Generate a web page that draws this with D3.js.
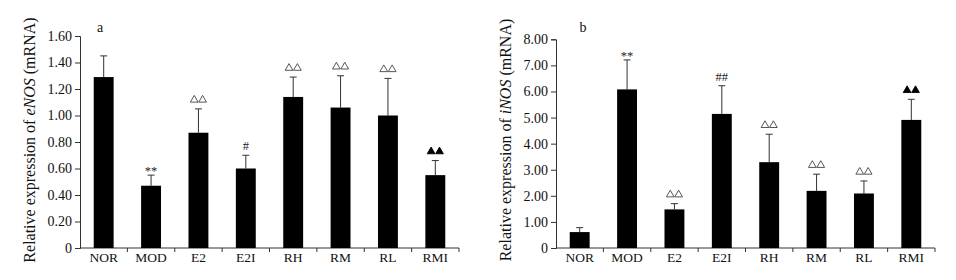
<!DOCTYPE html>
<html>
<head>
<meta charset="utf-8">
<script src="https://cdn.jsdelivr.net/npm/d3@7"></script>
<style>
  body { margin: 0; background: #fff; }
  svg { display: block; }
  text { font-family: "Liberation Serif", "Times New Roman", serif; }
</style>
</head>
<body>
<div id="chart"></div>
<script>
// group names on the x axis
const groups = ['NOR', 'MOD', 'E2', 'E2I', 'RH', 'RM', 'RL', 'RMI'];

// panel a: eNOS
const enosMean = [1.29, 0.47, 0.87, 0.60, 1.14, 1.06, 1.00, 0.55];
const enosUpper = [1.45, 0.55, 1.05, 0.70, 1.29, 1.30, 1.28, 0.66];
const enosMarks = ['', '**', '△△', '#', '△△', '△△', '△△', '▲▲'];
const enosTicks = [0, 0.2, 0.4, 0.6, 0.8, 1.0, 1.2, 1.4, 1.6];

// panel b: iNOS
const inosMean = [0.61, 6.08, 1.48, 5.14, 3.29, 2.19, 2.09, 4.91];
const inosUpper = [0.78, 7.21, 1.70, 6.22, 4.36, 2.83, 2.57, 5.70];
const inosMarks = ['', '**', '△△', '##', '△△', '△△', '△△', '▲▲'];
const inosTicks = [0, 1, 2, 3, 4, 5, 6, 7, 8];

const W = 956, H = 280;

const svg = d3.select('#chart').append('svg')
    .attr('width', W)
    .attr('height', H);

function drawPanel(opt) {
    const g = svg.append('g');

    const x = d3.scaleBand()
        .domain(groups)
        .range([opt.left, opt.left + 379])
        .paddingInner(0.58)
        .paddingOuter(0.29);

    const y = d3.scaleLinear()
        .domain([0, opt.max])
        .range([248, opt.top]);

    // y axis
    const yAxis = g.append('g')
        .attr('transform', `translate(${opt.left},0)`)
        .call(d3.axisLeft(y)
            .tickValues(opt.ticks)
            .tickSize(5)
            .tickPadding(3)
            .tickFormat(d => d === 0 ? '0' : d.toFixed(2)));
    yAxis.select('.domain').attr('stroke', '#333');
    yAxis.selectAll('.tick line').attr('stroke', '#333');
    yAxis.selectAll('text')
        .style('font-family', '"Liberation Serif", serif')
        .style('font-size', '14px')
        .attr('fill', '#111');

    // x axis with ticks at band boundaries
    const xg = g.append('g').attr('transform', `translate(0,248)`);
    xg.append('line')
        .attr('x1', opt.left).attr('x2', opt.left + 379)
        .attr('stroke', '#333');
    const step = x.step();
    xg.selectAll('.bt')
        .data(groups)
        .join('line')
        .attr('class', 'bt')
        .attr('x1', d => x(d) + x.bandwidth() / 2 + step / 2)
        .attr('x2', d => x(d) + x.bandwidth() / 2 + step / 2)
        .attr('y1', 0).attr('y2', 4)
        .attr('stroke', '#333');
    xg.selectAll('.lab')
        .data(groups)
        .join('text')
        .attr('class', 'lab')
        .attr('x', d => x(d) + x.bandwidth() / 2)
        .attr('y', 13.5)
        .attr('text-anchor', 'middle')
        .attr('fill', '#111')
        .style('font-size', '13.5px')
        .text(d => d);

    // error bars (upper only)
    const cx = (d, i) => x(groups[i]) + x.bandwidth() / 2;
    g.selectAll('.err')
        .data(opt.upper)
        .join('line')
        .attr('class', 'err')
        .attr('x1', cx).attr('x2', cx)
        .attr('y1', (d, i) => y(opt.mean[i]))
        .attr('y2', d => y(d))
        .attr('stroke', '#333');
    g.selectAll('.cap')
        .data(opt.upper)
        .join('line')
        .attr('class', 'cap')
        .attr('x1', (d, i) => cx(d, i) - 3.5)
        .attr('x2', (d, i) => cx(d, i) + 3.5)
        .attr('y1', d => y(d))
        .attr('y2', d => y(d))
        .attr('stroke', '#333');

    // bars
    g.selectAll('.bar')
        .data(opt.mean)
        .join('rect')
        .attr('class', 'bar')
        .attr('x', (d, i) => x(groups[i]))
        .attr('width', x.bandwidth())
        .attr('y', d => y(d))
        .attr('height', d => y(0) - y(d))
        .attr('fill', '#000');

    // significance marks
    opt.marks.forEach((m, i) => {
        if (!m) return;
        const px = cx(0, i);
        const top = y(opt.upper[i]);
        if (m === '△△' || m === '▲▲') {
            const filled = m === '▲▲';
            [-4.2, 4.2].forEach(dx => {
                g.append('path')
                    .attr('d', d3.symbol(d3.symbolTriangle, 26)())
                    .attr('transform', `translate(${px + dx},${top - 9})`)
                    .attr('fill', filled ? '#000' : '#fff')
                    .attr('stroke', filled ? '#000' : '#444')
                    .attr('stroke-width', 0.9);
            });
        } else {
            const off = m.startsWith('*') ? 0 : 5;
            g.append('text')
                .attr('x', px)
                .attr('y', top - off)
                .attr('text-anchor', 'middle')
                .attr('fill', '#222')
                .style('font-size', '12.5px')
                .text(m);
        }
    });

    // panel letter
    g.append('text')
        .attr('x', opt.letterX)
        .attr('y', 32)
        .attr('text-anchor', 'middle')
        .attr('fill', '#111')
        .style('font-size', '14px')
        .text(opt.letter);

    // y label
    const lab = g.append('text')
        .attr('transform', `translate(${opt.labelX},${140}) rotate(-90)`)
        .attr('text-anchor', 'middle')
        .attr('fill', '#111')
        .style('font-size', '16px');
    lab.append('tspan').text('Relative expression of ');
    lab.append('tspan').style('font-style', 'italic').text(opt.gene);
    lab.append('tspan').text(' (mRNA)');
}

drawPanel({
    left: 80, top: 36, max: 1.6, ticks: enosTicks,
    mean: enosMean, upper: enosUpper, marks: enosMarks,
    letter: 'a', letterX: 100, labelX: 35, gene: 'eNOS'
});

drawPanel({
    left: 556, top: 39.3, max: 8, ticks: inosTicks,
    mean: inosMean, upper: inosUpper, marks: inosMarks,
    letter: 'b', letterX: 583, labelX: 511, gene: 'iNOS'
});
</script>
</body>
</html>
